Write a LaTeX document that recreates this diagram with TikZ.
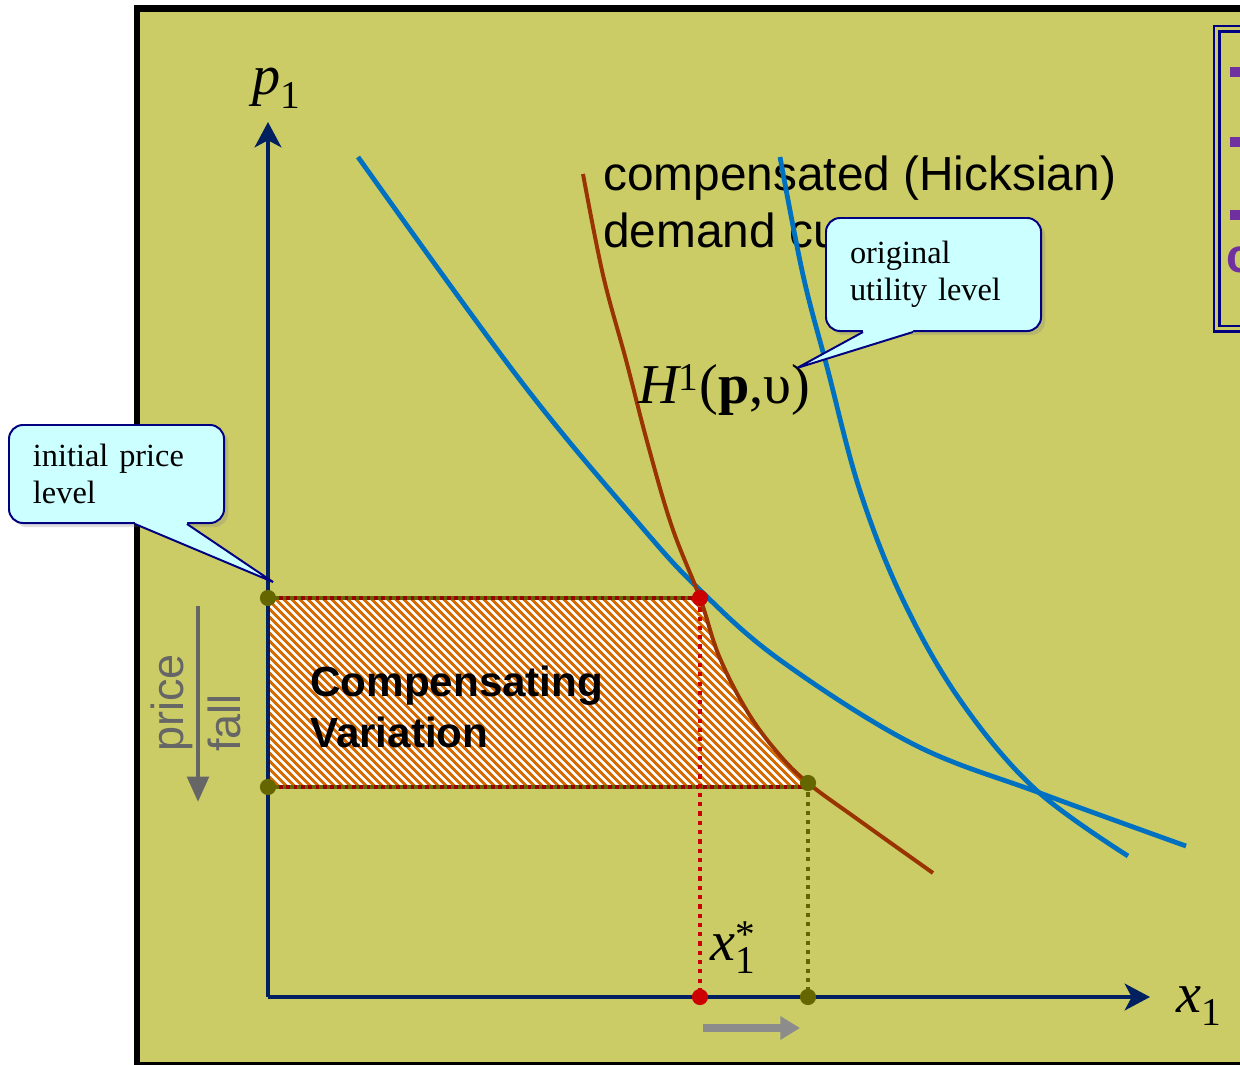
\documentclass[tikz,border=0pt]{standalone}
\usepackage{fontspec}
\setmainfont{Liberation Sans}
\newfontfamily\timesfont{Liberation Serif}
\usetikzlibrary{arrows.meta, calc, patterns.meta, shadows}
\definecolor{olivebg}{HTML}{CCCC66}
\definecolor{axisnavy}{HTML}{002060}
\definecolor{curveblue}{HTML}{0070C0}
\definecolor{curvebrown}{HTML}{993300}
\definecolor{dotred}{HTML}{CC0000}
\definecolor{darkred}{HTML}{990000}
\definecolor{dotolive}{HTML}{666600}
\definecolor{hatchorange}{HTML}{D46A00}
\definecolor{calloutfill}{HTML}{CCFFFF}
\definecolor{calloutline}{HTML}{000080}
\definecolor{boxpurple}{HTML}{7030A0}
\definecolor{arrowgrey}{HTML}{666666}
\definecolor{arrowlight}{HTML}{8C8C8C}

\tikzset{
  dotmark/.style={circle, inner sep=0pt, minimum size=11.5pt},
  axis/.style={axisnavy, line width=2.8pt, -{Stealth[length=18pt, width=19pt, inset=5pt]}},
  indiff/.style={curveblue, line width=3.4pt},
  hicks/.style={curvebrown, line width=2.8pt},
  dropline/.style={line width=3pt, dash pattern=on 3pt off 3.6pt},
  edgeline/.style={darkred, line width=2.6pt},
  edgedots/.style={dotolive, line width=2.6pt, dash pattern=on 2.6pt off 2.6pt},
  callout/.style={draw=calloutline, line width=1.4pt, fill=calloutfill, rounded corners=10pt,
    drop shadow={opacity=0.25, shadow xshift=3pt, shadow yshift=-3pt},
    font=\timesfont\fontsize{23}{26.5}\selectfont, align=left, anchor=north west,
    inner xsep=0.6cm, text width=4.175cm, minimum width=5.375cm},
  ptrline/.style={calloutline, line width=1.4pt},
  mathlabel/.style={inner sep=0pt, anchor=base west, font=\timesfont\fontsize{40}{46}\selectfont}
}

\begin{document}
\begin{tikzpicture}[x=0.025cm, y=-0.025cm]
  \useasboundingbox (0,0) rectangle (1240,1064);
  \fill[white] (0,0) rectangle (1240,1064);
  \draw[black, line width=4.3pt, fill=olivebg] (137,8.5) rectangle (1300,1065.5);

  % legend box, cut off at the right
  \draw[calloutline, line width=1.5pt] (1214,26) rectangle (1300,331.5);
  \draw[calloutline, line width=1.5pt] (1219.5,31.5) rectangle (1300,326);
  \foreach \y in {72,142,215}{%
    \fill[boxpurple] (1230,\y-5) rectangle (1240,\y+5);}
  \node[anchor=base west, inner sep=0pt, text=boxpurple,
    font=\bfseries\fontsize{34}{40}\selectfont] (legc) at (1226,272) {c};

  \node[anchor=north west, inner sep=0pt, align=left,
    font=\fontsize{34}{40}\selectfont] (hickstext) at (603,156)
    {compensated (Hicksian)\\demand curve};

  \coordinate (o) at (268,997);
  \coordinate (ytip) at (268,122);
  \coordinate (xtip) at (1150,997);
  \coordinate (pa) at (268,598);
  \coordinate (pb) at (268,787);
  \coordinate (ea) at (700,598);
  \coordinate (eb) at (808,783);
  \coordinate (xa) at (700,997);
  \coordinate (xb) at (808,997);

  % compensating variation
  \fill[pattern={Lines[angle=-45, distance=4pt, line width=2.1pt]}, pattern color=hatchorange,
    preaction={fill=white}]
    (pa) -- (ea) -- plot[smooth, tension=0.6] coordinates {(700,598) (719,656) (747,711) (777,752) (808,783)}
    -- (808,787) -- (pb) -- cycle;
  \draw[edgeline] (pa) -- (ea);
  \draw[edgedots] (pa) -- (ea);
  \draw[edgeline] (pb) -- (eb |- pb);
  \draw[edgedots] (pb) -- (eb |- pb);
  \draw[dropline, dotred] (ea) -- (xa);
  \draw[dropline, dotolive] (eb) -- (xb);

  \draw[axis] (o) -- (ytip);
  \draw[axis] (o) -- (xtip);

  \draw[indiff] plot[smooth, tension=0.6] coordinates {(358,157) (520,380) (640,525)
    (700,590) (780,660) (913,744) (1040,793) (1186,846)};
  \draw[indiff] plot[smooth, tension=0.6] coordinates {(780,157) (803,275) (827,367) (860,491)
    (903,600) (960,700) (1035,789) (1128,856)};
  \draw[hicks] plot[smooth, tension=0.6] coordinates {(583,174) (603,275) (626,360) (648,445)
    (672,527) (700,598) (719,656) (747,711) (777,752) (808,783) (860,821) (933,873)};

  \foreach \c/\col in {pa/dotolive, pb/dotolive, eb/dotolive, xb/dotolive, ea/dotred, xa/dotred}
    \node[dotmark, fill=\col] (dot\c) at (\c) {};

  \node[anchor=north west, inner sep=0pt, align=left,
    font=\bfseries\fontsize{30}{36}\selectfont] (cvtext) at (310,666)
    {Compensating\\Variation};

  \node[mathlabel] (plab) at (252,95) {{\itshape p}\textsubscript{1}};
  \node[mathlabel] (xlab) at (1176,1012) {{\itshape x}\textsubscript{1}};
  \node[mathlabel] (xstar) at (710,960)
    {{\itshape x}\rlap{\textsuperscript{*}}\textsubscript{1}};
  \node[mathlabel] (hlab) at (638,403) {{\itshape H}\textsuperscript{1}(\textbf{p},υ)};

  % price fall
  \node[rotate=90, anchor=north west, inner sep=0pt, align=left, text=arrowgrey,
    font=\fontsize{32}{40}\selectfont] (pfall) at (151,752) {price\\fall};
  \coordinate (pfalltop) at (198,606);
  \coordinate (pfallend) at (198,802);
  \draw[arrowgrey, line width=3.5pt, -{Triangle[length=18pt, width=15pt]}] (pfalltop) -- (pfallend);
  \coordinate (shiftL) at (703,1028);
  \coordinate (shiftR) at (800,1028);
  \draw[arrowlight, line width=5pt, -{Triangle[length=14pt, width=16pt]}] (shiftL) -- (shiftR);

  % callouts
  \node[callout, minimum height=2.45cm] (initcall) at (8,424) {initial price\\level};
  \coordinate (initptr) at (273,582);
  \fill[calloutfill] ($(initcall.south west)+(127,0)$) -- ++(0,-4)
    -- ($(initcall.south west)+(179,-4)$) -- ++(0,4) -- (initptr) -- cycle;
  \draw[ptrline] ($(initcall.south west)+(127,0)$) -- (initptr)
    -- ($(initcall.south west)+(179,0)$);

  \node[callout, minimum height=2.825cm] (origcall) at (825,217) {original\\utility level};
  \coordinate (origptr) at (797,368);
  \fill[calloutfill] ($(origcall.south west)+(38,0)$) -- ++(0,-4)
    -- ($(origcall.south west)+(88,-4)$) -- ++(0,4) -- (origptr) -- cycle;
  \draw[ptrline] ($(origcall.south west)+(38,0)$) -- (origptr)
    -- ($(origcall.south west)+(88,0)$);
\end{tikzpicture}
\end{document}
